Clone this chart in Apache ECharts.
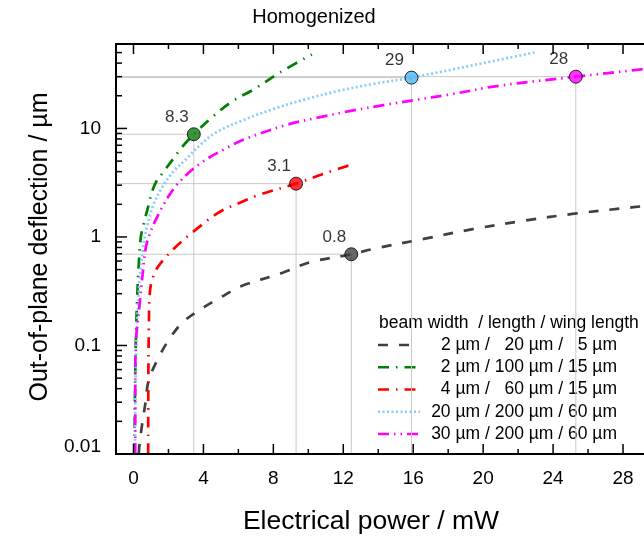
<!DOCTYPE html>
<html><head><meta charset="utf-8">
<script src="https://cdn.jsdelivr.net/npm/echarts@6/dist/echarts.min.js"></script>
<style>html,body{margin:0;padding:0;background:#fff}#c{width:644px;height:536px}</style>
</head><body><div id="c"></div>
<script>
const FONT = '"Liberation Sans", Arial, Helvetica, sans-serif';

// ---- data (power mW, deflection µm) ----
const seriesNames = ['2 µm /   20 µm /   5 µm', '2 µm / 100 µm / 15 µm', '4 µm /   60 µm / 15 µm', '20 µm / 200 µm / 60 µm', '30 µm / 200 µm / 60 µm'];
const legendHeader = 'beam width  / length / wing length';
const blackData = [[0.3,0.01],[0.36,0.013],[0.5,0.019],[0.69,0.03],[0.86,0.047],[1.39,0.075],[2.06,0.115],[2.82,0.164],[3.87,0.217],[5.0,0.278],[6.15,0.351],[8.57,0.47],[10.1,0.585],[12.46,0.693],[13.7,0.775],[16.6,0.96],[19.4,1.18],[22.3,1.41],[25.1,1.63],[28.6,1.88],[30,1.98]];
const greenData = [[0.05,0.01],[0.08,0.03],[0.13,0.1],[0.2,0.25],[0.3,0.55],[0.42,1.0],[0.6,1.35],[0.78,1.75],[1.2,3.0],[1.7,3.95],[2.2,5.05],[2.77,6.7],[3.45,8.84],[4.5,12.7],[5.7,18],[6.9,23],[8.4,33],[10.2,48]];
const redData = [[0.84,0.01],[0.85,0.05],[0.88,0.15],[0.93,0.3],[1.08,0.41],[1.43,0.54],[2.38,0.8],[3.6,1.18],[4.9,1.69],[6.15,2.09],[7.2,2.45],[9.3,3.1],[11.0,3.88],[12.4,4.6]];
const blueData = [[0.09,0.01],[0.12,0.05],[0.2,0.15],[0.35,0.4],[0.55,0.8],[0.75,1.2],[1.1,1.9],[1.58,2.77],[2.25,3.95],[3.0,5.2],[3.77,6.95],[4.73,9.2],[6.2,11.8],[8.0,15.1],[9.9,18.7],[11.8,22.3],[13.7,25.7],[15.9,29.4],[19.5,38.5],[23,50.4]];
const magentaData = [[0.1,0.01],[0.1,0.05],[0.15,0.115],[0.34,0.23],[0.54,0.48],[0.78,0.9],[1.49,1.69],[2.44,2.97],[3.77,4.7],[5.4,6.7],[6.48,8.1],[8.77,10.8],[10.67,12.7],[12.5,14.6],[14.3,16.4],[16.2,18.4],[17.9,20.3],[20.95,24.8],[25.3,30.0],[28.95,34.9],[30,36.5]];

const markerX = [12.46, 3.45, 9.3, 15.9, 25.3];
const markerY = [0.693, 8.84, 3.1, 29.4, 30.0];
const markerLabels = ['0.8', '8.3', '3.1', '29', '28'];

// ---- axis ticks ----
const xMin = -1, xMax = 29.2, yMin = 0.01, yMax = 60;
const xMajorTicks = [0,4,8,12,16,20,24,28];
const xMinorTicks = [2,6,10,14,18,22,26];
const yMajorTicks = [0.01,0.1,1,10];
const yMajorLabels = ['0.01','0.1','1','10'];
const yMinorTicks = [0.02,0.03,0.04,0.05,0.06,0.07,0.08,0.09,0.2,0.3,0.4,0.5,0.6,0.7,0.8,0.9,2,3,4,5,6,7,8,9,20,30,40,50];

const colors = ['#404040','#008000','#ff0000','#87cefa','#ff00ff'];
const markerColors = ['#404040','#0a7d0a','#ff0000','#4db5f2','#ff00ff'];
const dashes = [[10,11],[11,7,1.5,7],[11,7,1.5,7],[2,2.5],[11,5,1.5,5,1.5,5]];
const datasets = [blackData, greenData, redData, blueData, magentaData];

const chart = echarts.init(document.getElementById('c'), null, {renderer:'canvas'});

const lineSeries = datasets.map((d, i) => ({
  type: 'line', name: seriesNames[i], data: d, showSymbol: false, smooth: 0.35,
  lineStyle: {color: colors[i], width: 2.7, type: dashes[i]}, z: 3, silent: true
}));

const axisDeco = {
  type: 'custom', coordinateSystem: 'cartesian2d', data: [[0, 1]], z: 5, silent: true,
  renderItem: function (params, api) {
    const ch = [];
    const st = {stroke: '#000', lineWidth: 1.5};
    const bl = api.coord([xMin, yMin]), br = api.coord([xMax, yMin]), tl = api.coord([xMin, yMax]), tr = api.coord([xMax, yMax]);
    ch.push({type:'line', shape:{x1:bl[0]-0.75,y1:bl[1],x2:br[0],y2:br[1]}, style:{stroke:'#000', lineWidth:2}});
    ch.push({type:'line', shape:{x1:tl[0]-0.75,y1:tl[1],x2:tr[0],y2:tr[1]}, style:{stroke:'#000', lineWidth:2}});
    ch.push({type:'line', shape:{x1:bl[0],y1:bl[1]+1,x2:tl[0],y2:tl[1]-1}, style:{stroke:'#000', lineWidth:2}});
    xMajorTicks.forEach(v => {
      const b = api.coord([v, yMin]), t = api.coord([v, yMax]);
      ch.push({type:'line', shape:{x1:b[0],y1:b[1],x2:b[0],y2:b[1]-10}, style:st});
      ch.push({type:'line', shape:{x1:t[0],y1:t[1],x2:t[0],y2:t[1]+10}, style:st});
      ch.push({type:'text', x:b[0], y:b[1]+25, style:{text:String(v), font:'19px '+FONT, fill:'#000', align:'center', verticalAlign:'middle'}});
    });
    xMinorTicks.forEach(v => {
      const b = api.coord([v, yMin]), t = api.coord([v, yMax]);
      ch.push({type:'line', shape:{x1:b[0],y1:b[1],x2:b[0],y2:b[1]-5}, style:st});
      ch.push({type:'line', shape:{x1:t[0],y1:t[1],x2:t[0],y2:t[1]+5}, style:st});
    });
    yMajorTicks.forEach((v, i) => {
      const p = api.coord([xMin, v]);
      ch.push({type:'line', shape:{x1:p[0],y1:p[1],x2:p[0]+11,y2:p[1]}, style:st});
      ch.push({type:'text', x:p[0]-15, y:p[1] - (i === 0 ? 7 : 0), style:{text:yMajorLabels[i], font:'19px '+FONT, fill:'#000', align:'right', verticalAlign:'middle'}});
    });
    yMinorTicks.forEach(v => {
      const p = api.coord([xMin, v]);
      ch.push({type:'line', shape:{x1:p[0],y1:p[1],x2:p[0]+6,y2:p[1]}, style:st});
    });
    return {type:'group', children: ch};
  }
};

const dropLines = {
  type: 'custom', coordinateSystem: 'cartesian2d', z: 1, silent: true,
  data: markerX.map((x, i) => [x, markerY[i]]),
  renderItem: function (params, api) {
    const x = api.value(0), y = api.value(1);
    const p = api.coord([x, y]), pb = api.coord([x, yMin]), pl = api.coord([xMin, y]);
    const st = {stroke: '#c8c8c8', lineWidth: 1};
    return {type:'group', children:[
      {type:'line', shape:{x1:p[0],y1:p[1],x2:pb[0],y2:pb[1]}, style:st},
      {type:'line', shape:{x1:p[0],y1:p[1],x2:pl[0],y2:pl[1]}, style:st}
    ]};
  }
};

const markers = {
  type: 'scatter', z: 6, silent: true, symbolSize: 13,
  data: markerX.map((x, i) => ({value:[x, markerY[i]], itemStyle:{color: markerColors[i], borderColor:'#000', borderWidth:1}})),
  label: {show: true, position: 'inside', offset: [-17, -17], formatter: p => markerLabels[p.dataIndex], color: '#000', fontSize: 17, fontFamily: FONT}
};

// legend & titles (graphic)
const legendEls = [];
legendEls.push({type:'text', x:379, y:323, style:{text:legendHeader, font:'17.5px '+FONT, fill:'#000', align:'left', verticalAlign:'middle'}});
seriesNames.forEach((n, i) => {
  const y = 345 + i * 22.25;
  legendEls.push({type:'line', shape:{x1:378, y1:y, x2:420, y2:y}, style:{stroke: colors[i], lineWidth: 2.7, lineDash: dashes[i]}});
  legendEls.push({type:'text', x:617, y:y, style:{text:n, font:'17.5px '+FONT, fill:'#000', align:'right', verticalAlign:'middle'}});
});
legendEls.push({type:'text', x:314, y:17, style:{text:'Homogenized', font:'20px '+FONT, fill:'#000', align:'center', verticalAlign:'middle'}});
legendEls.push({type:'text', x:371, y:522, style:{text:'Electrical power / mW', font:'26.5px '+FONT, fill:'#000', align:'center', verticalAlign:'middle'}});
legendEls.push({type:'text', x:40, y:247, rotation: Math.PI/2, style:{text:'Out-of-plane deflection / µm', font:'25px '+FONT, fill:'#000', align:'center', verticalAlign:'middle'}});

chart.setOption({
  animation: false,
  backgroundColor: '#fff',
  grid: {left: 116, top: 44, right: 0, bottom: 82, show: false},
  xAxis: {type:'value', min:xMin, max:xMax, axisLine:{show:false}, axisTick:{show:false}, axisLabel:{show:false}, splitLine:{show:false}},
  yAxis: {type:'log', logBase:10, min:yMin, max:yMax, axisLine:{show:false}, axisTick:{show:false}, axisLabel:{show:false}, splitLine:{show:false}, minorTick:{show:false}, minorSplitLine:{show:false}},
  graphic: legendEls,
  series: [dropLines].concat(lineSeries, [markers, axisDeco])
});
</script>
</body></html>
